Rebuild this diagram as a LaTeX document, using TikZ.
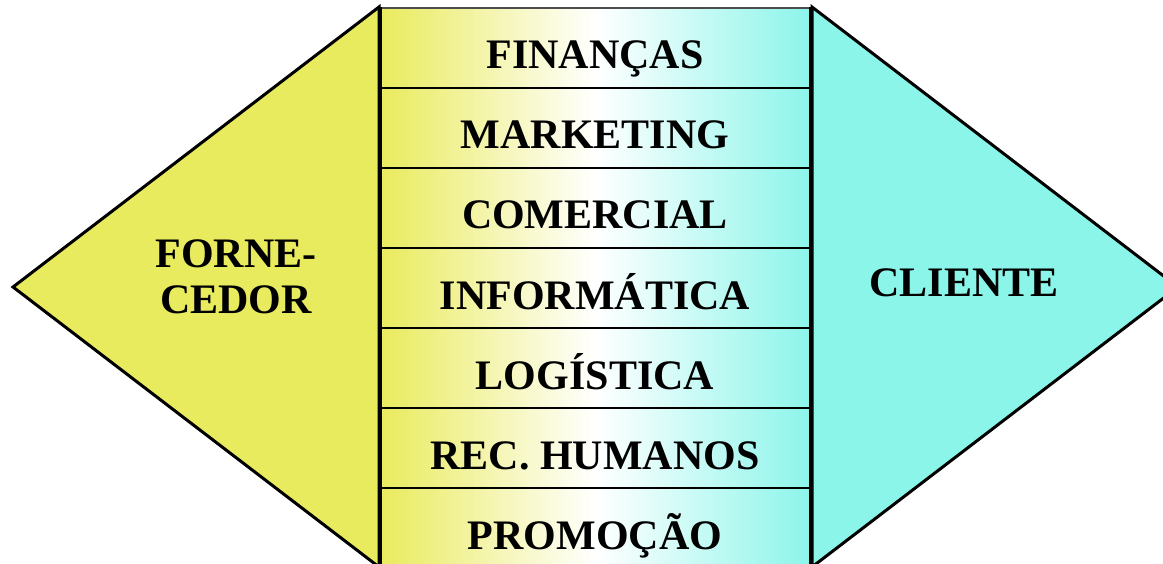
\documentclass[tikz,border=0pt]{standalone}
\usepackage{fontspec}
\setmainfont{Liberation Serif}
\usetikzlibrary{positioning}
\definecolor{forneyellow}{RGB}{233,235,94}
\definecolor{clientecyan}{RGB}{140,245,234}

\begin{document}
\begin{tikzpicture}[x=1pt,y=-1pt,
    bigtext/.style={font=\fontsize{42}{46}\selectfont\bfseries},
    rowlabel/.style={bigtext,anchor=base},
    sideline/.style={line width=3pt,line join=miter}]

      \useasboundingbox (0,0) rectangle (1163,564);
      \clip (0,0) rectangle (1163,564);

      % Side triangles
      \filldraw[fill=forneyellow,sideline] (379,7) -- (13,287) -- (379,567) -- cycle;
      \filldraw[fill=clientecyan,sideline] (812,7) -- (1178,287) -- (812,567) -- cycle;

      % Central column with gradient
      \shade[left color=forneyellow,right color=clientecyan,middle color=white]
        (381,8) rectangle (810,568);
      \draw[black!70,line width=2pt] (381,8) -- (810,8);

      % Rows and labels
      \foreach \lbl [count=\i from 0] in {FINANÇAS,MARKETING,COMERCIAL,INFORMÁTICA,LOGÍSTICA,REC. HUMANOS,PROMOÇÃO}{
        \node[rowlabel] (row\i) at (595,8+80*\i+61) {\lbl};
        \ifnum\i>0
          \draw[line width=2pt] (381,8+80*\i) -- (810,8+80*\i);
        \fi
      }

      % Thick borders of the column
      \draw[line width=4.5pt] (380,7) -- (380,568);
      \draw[line width=4.5pt] (811,7) -- (811,568);

      % Side labels
      \node[bigtext,align=center] (forne) at (236,277) {FORNE-\\CEDOR};
      \node[bigtext] (cliente) at (964,283) {CLIENTE};
    \end{tikzpicture}
\end{document}
